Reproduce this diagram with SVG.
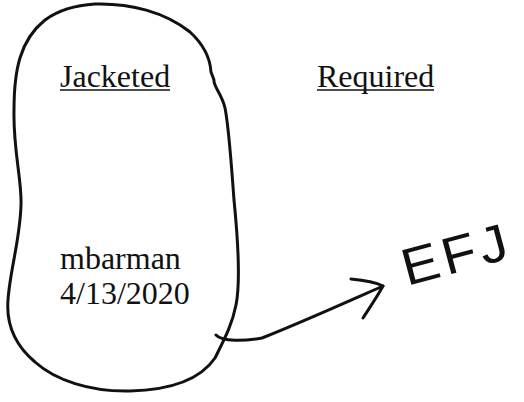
<svg xmlns="http://www.w3.org/2000/svg" width="524" height="402" viewBox="0 0 524 402">
<style>
.serif{font-family:"Liberation Serif","Times New Roman",serif;font-size:32px;fill:#111}
.ul{stroke:#111;stroke-width:1.6}
.ink{fill:none;stroke:#111;stroke-width:3;stroke-linecap:round;stroke-linejoin:round}
.hand{font-family:"Liberation Sans",Arial,sans-serif;font-size:52px;fill:#111;letter-spacing:4px}
</style>
<rect width="524" height="402" fill="#fff"/>
<g id="loop">
<path class="ink" d="M95,4 C130,3 165,12 190,32 C203,44 210,56 211,72 L214,80 C213,86 222,94 225,108 C229,128 231,160 234,200 C238,240 241,280 236,305 C232,325 225,338 215,358 C200,380 170,390 130,391 C90,392 55,380 35,362 C15,345 6,325 8,300 C10,270 20,240 21,205 C22,180 13,150 14,110 C14,70 20,40 45,20 C60,9 78,5 95,4 Z"/>
<text class="serif" x="60" y="269">mbarman</text>
<text class="serif" x="60" y="304">4/13/2020</text>
</g>
<g id="jacketed">
<text class="serif" x="60" y="87">Jacketed</text>
<line class="ul" x1="60" y1="90" x2="170" y2="90"/>
</g>
<g id="required">
<text class="serif" x="317" y="87">Required</text>
<line class="ul" x1="317" y1="90" x2="434" y2="90"/>
</g>
<g id="efj">
<text class="hand" x="407" y="286" transform="rotate(-15 407 286)" textLength="112" lengthAdjust="spacingAndGlyphs">EFJ</text>
</g>
<g id="connectors">
<path class="ink" d="M216,335 C222,342 245,341 262,338 C300,323 340,305 383,286"/>
<path class="ink" d="M351,279 C362,280 375,282 383,286 C377,297 370,307 363,318"/>
</g>
</svg>
